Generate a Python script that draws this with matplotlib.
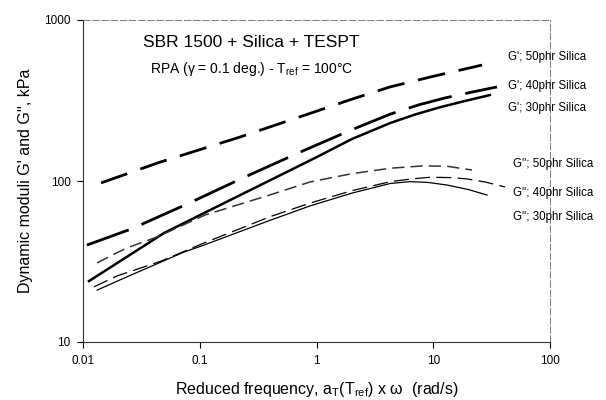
import matplotlib
matplotlib.use("Agg")
import matplotlib.pyplot as plt
from matplotlib.ticker import FixedLocator, NullLocator

plt.rcParams['font.family'] = ['Liberation Sans', 'DejaVu Sans']
plt.rcParams['mathtext.fontset'] = 'custom'
plt.rcParams['mathtext.rm'] = 'Liberation Sans'
plt.rcParams['mathtext.it'] = 'Liberation Sans:italic'

# values (frequency rad/s, modulus kPa)
g1_50_x = [0.01426, 0.0457, 0.221, 1.01, 2.0, 4.27, 10.0, 26.2]
g1_50_y = [97.3, 131, 187.5, 272, 322, 384, 447, 525]

g1_40_x = [0.0108, 0.0258, 0.0778, 0.234, 0.722, 2.0, 4.27, 7.5, 12.6, 22.0, 35.2]
g1_40_y = [40.0, 50.3, 71.9, 104.5, 151, 208, 260, 297, 328, 358, 384]

g1_30_x = [0.01125, 0.0494, 0.1087, 0.97, 2.0, 4.27, 7.0, 11.4, 18.0, 30.6]
g1_30_y = [23.9, 47.5, 63.2, 139, 182, 229, 259, 287, 312, 342]

g2_50_x = [0.0132, 0.019, 0.0238, 0.043, 0.111, 0.4, 0.879, 2.0, 4.27, 8.0, 13.1, 21.5]
g2_50_y = [31.0, 35.5, 38.4, 44.9, 61.5, 82, 98.6, 111, 120, 124, 123.5, 117]

g2_40_x = [0.0124, 0.0195, 0.0466, 0.1087, 0.4, 0.879, 2.0, 4.27, 6.5, 9.4, 14.0, 19.5, 28.0, 41.1]
g2_40_y = [22.0, 25.7, 31.8, 41.2, 60, 72.9, 87, 99, 103, 105.5, 105, 103, 98.5, 91.9]

g2_30_x = [0.0132, 0.0238, 0.0733, 0.1087, 0.4, 0.879, 2.0, 4.27, 6.32, 9.0, 13.1, 20.0, 28.9]
g2_30_y = [21.0, 25.4, 36.2, 40.0, 57, 70.0, 84, 96.5, 99.1, 98, 94.4, 88.5, 81.8]

labels = ["G'; 50phr Silica", "G'; 40phr Silica", "G'; 30phr Silica",
          "G''; 50phr Silica", "G''; 40phr Silica", "G''; 30phr Silica"]

fig = plt.figure(figsize=(6.06, 4.0), dpi=100)
ax = fig.add_axes([0.137, 0.145, 0.7706, 0.805])

ax.plot(g1_50_x, g1_50_y, color='black', lw=2.0, dashes=(10, 5), dash_joinstyle='round')
ax.plot(g1_40_x, g1_40_y, color='black', lw=2.0, dashes=(16, 5), dash_joinstyle='round')
ax.plot(g1_30_x, g1_30_y, color='black', lw=1.8, solid_joinstyle='round')
ax.plot(g2_50_x, g2_50_y, color='#333333', lw=1.1, dashes=(8, 4), dash_joinstyle='round')
ax.plot(g2_40_x, g2_40_y, color='black', lw=0.9, dashes=(12, 5), dash_joinstyle='round')
ax.plot(g2_30_x, g2_30_y, color='black', lw=0.9, solid_joinstyle='round')

ax.set_xscale('log')
ax.set_yscale('log')
ax.set_xlim(0.01, 100)
ax.set_ylim(10, 1000)
ax.xaxis.set_major_locator(FixedLocator([0.01, 0.1, 1, 10, 100]))
ax.yaxis.set_major_locator(FixedLocator([10, 100, 1000]))
ax.xaxis.set_minor_locator(NullLocator())
ax.yaxis.set_minor_locator(NullLocator())
ax.set_xticklabels(['0.01', '0.1', '1', '10', '100'])
ax.set_yticklabels(['10', '100', '1000'])
ax.tick_params(axis='both', direction='out', length=4, width=0.8, labelsize=8.5, pad=5)

for side in ['top', 'right']:
    ax.spines[side].set_linestyle((0, (8, 3)))
    ax.spines[side].set_linewidth(0.6)
    ax.spines[side].set_color('#666666')
for side in ['left', 'bottom']:
    ax.spines[side].set_linewidth(0.8)
    ax.spines[side].set_color('#333333')

ax.set_ylabel("Dynamic moduli G' and G'', kPa", fontsize=11.5, labelpad=8)
ax.set_xlabel("Reduced frequency, a$_{\\rm T}$(T$_{\\rm ref}$) x ω  (rad/s)",
              fontsize=11.5, labelpad=10)

fig.text(0.415, 0.893, "SBR 1500 + Silica + TESPT", fontsize=12.5, ha='center', va='center')
fig.text(0.415, 0.827, "RPA (γ = 0.1 deg.) - T$_{\\rm ref}$ = 100°C",
         fontsize=10, ha='center', va='center')

label_pos = [(508, 57), (508, 86), (508, 108), (513, 164), (513, 193), (513, 217)]
for lab, (px, py) in zip(labels, label_pos):
    fig.text(px / 606, 1 - py / 400, lab, fontsize=8.3, ha='left', va='center')

fig.savefig('out.png', dpi=100)
